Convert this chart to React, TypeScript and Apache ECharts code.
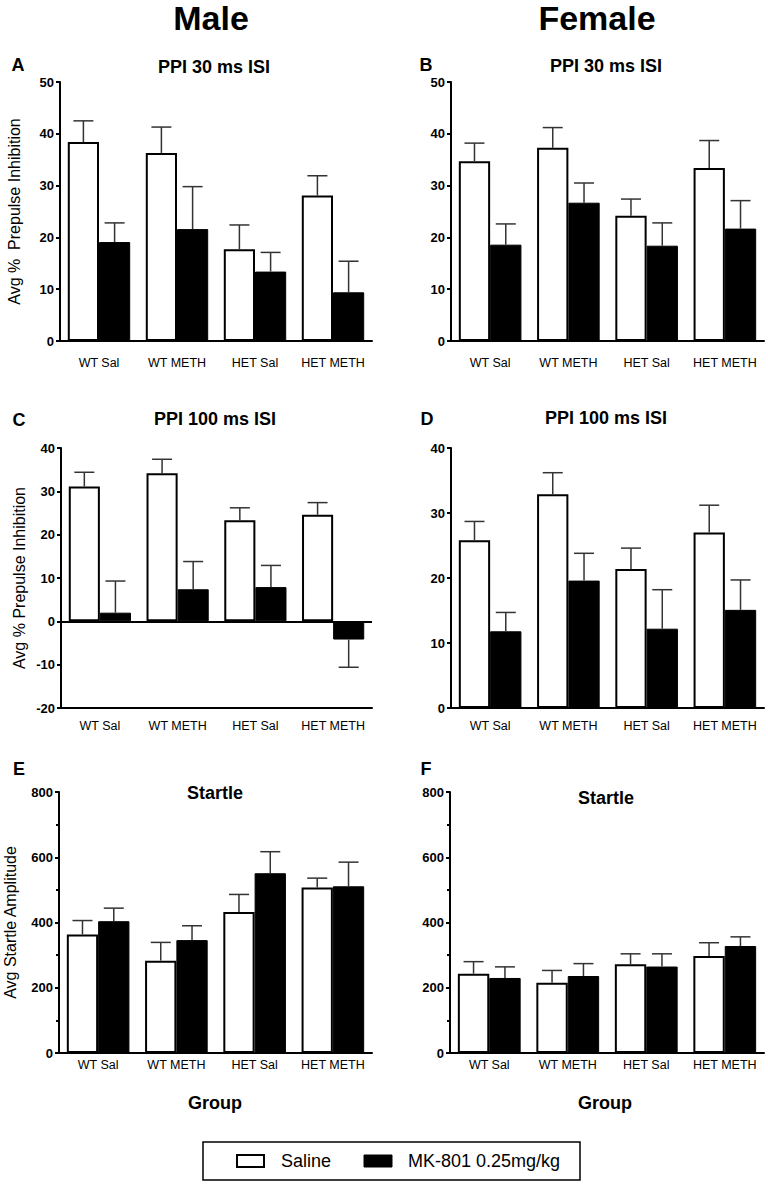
import React, { useEffect, useRef } from "react";
import * as echarts from "echarts";

const CATEGORIES = ["WT Sal", "WT METH", "HET Sal", "HET METH"];

// Panel A – Male, PPI 30 ms ISI
const A_SALINE = [38.4, 36.3, 17.7, 28.1];
const A_SALINE_SEM = [4.1, 5.0, 4.7, 3.8];
const A_MK801 = [19.1, 21.6, 13.4, 9.4];
const A_MK801_SEM = [3.7, 8.2, 3.7, 6.0];

// Panel B – Female, PPI 30 ms ISI
const B_SALINE = [34.7, 37.3, 24.2, 33.4];
const B_SALINE_SEM = [3.5, 3.9, 3.2, 5.3];
const B_MK801 = [18.6, 26.7, 18.4, 21.7];
const B_MK801_SEM = [4.0, 3.8, 4.4, 5.4];

// Panel C – Male, PPI 100 ms ISI
const C_SALINE = [31.1, 34.2, 23.3, 24.6];
const C_SALINE_SEM = [3.3, 3.2, 2.9, 2.8];
const C_MK801 = [2.0, 7.4, 7.9, -4.2];
const C_MK801_SEM = [7.3, 6.4, 5.0, 6.4];

// Panel D – Female, PPI 100 ms ISI
const D_SALINE = [25.8, 32.9, 21.4, 27.0];
const D_SALINE_SEM = [2.9, 3.3, 3.2, 4.2];
const D_MK801 = [11.8, 19.6, 12.2, 15.1];
const D_MK801_SEM = [2.9, 4.2, 6.0, 4.6];

// Panel E – Male, Startle
const E_SALINE = [363, 283, 432, 507];
const E_SALINE_SEM = [43, 56, 54, 29];
const E_MK801 = [404, 346, 551, 511];
const E_MK801_SEM = [40, 44, 66, 74];

// Panel F – Female, Startle
const F_SALINE = [243, 215, 272, 297];
const F_SALINE_SEM = [37, 38, 32, 41];
const F_MK801 = [230, 236, 265, 328];
const F_MK801_SEM = [34, 38, 39, 28];

const SERIES_NAMES = ["Saline", "MK-801 0.25mg/kg"];
const FONT = '"Liberation Sans", Arial, Helvetica, sans-serif';

type Panel = {
  letter: string;
  title: string;
  grid: { left: number; top: number; width: number; height: number };
  min: number;
  max: number;
  interval: number;
  minor: boolean;
  yName: string;
  nameGap: number;
  labelMargin: number;
  zeroLine: boolean;
  saline: number[];
  salineSem: number[];
  mk: number[];
  mkSem: number[];
  letterPos: [number, number];
  titlePos: [number, number];
};

const PANELS: Panel[] = [
  {
    letter: "A", title: "PPI 30 ms ISI",
    grid: { left: 60, top: 82, width: 312, height: 259 },
    min: 0, max: 50, interval: 10, minor: false,
    yName: "Avg %  Prepulse Inhibition", nameGap: 38, labelMargin: 15, zeroLine: false,
    saline: A_SALINE, salineSem: A_SALINE_SEM, mk: A_MK801, mkSem: A_MK801_SEM,
    letterPos: [18, 65], titlePos: [214, 67],
  },
  {
    letter: "B", title: "PPI 30 ms ISI",
    grid: { left: 451, top: 82, width: 313, height: 259 },
    min: 0, max: 50, interval: 10, minor: false,
    yName: "", nameGap: 38, labelMargin: 15, zeroLine: false,
    saline: B_SALINE, salineSem: B_SALINE_SEM, mk: B_MK801, mkSem: B_MK801_SEM,
    letterPos: [426, 65], titlePos: [606, 66],
  },
  {
    letter: "C", title: "PPI 100 ms ISI",
    grid: { left: 61, top: 448, width: 311, height: 260 },
    min: -20, max: 40, interval: 10, minor: false,
    yName: "Avg % Prepulse Inhibition", nameGap: 34, labelMargin: 11, zeroLine: true,
    saline: C_SALINE, salineSem: C_SALINE_SEM, mk: C_MK801, mkSem: C_MK801_SEM,
    letterPos: [19, 420], titlePos: [215, 419],
  },
  {
    letter: "D", title: "PPI 100 ms ISI",
    grid: { left: 451, top: 448, width: 313, height: 260 },
    min: 0, max: 40, interval: 10, minor: false,
    yName: "", nameGap: 34, labelMargin: 11, zeroLine: false,
    saline: D_SALINE, salineSem: D_SALINE_SEM, mk: D_MK801, mkSem: D_MK801_SEM,
    letterPos: [427, 419], titlePos: [606, 418],
  },
  {
    letter: "E", title: "Startle",
    grid: { left: 59, top: 792, width: 313, height: 261 },
    min: 0, max: 800, interval: 200, minor: true,
    yName: "Avg Startle Amplitude", nameGap: 41, labelMargin: 5, zeroLine: false,
    saline: E_SALINE, salineSem: E_SALINE_SEM, mk: E_MK801, mkSem: E_MK801_SEM,
    letterPos: [19, 769], titlePos: [215, 793],
  },
  {
    letter: "F", title: "Startle",
    grid: { left: 450, top: 792, width: 314, height: 261 },
    min: 0, max: 800, interval: 200, minor: true,
    yName: "", nameGap: 41, labelMargin: 5, zeroLine: false,
    saline: F_SALINE, salineSem: F_SALINE_SEM, mk: F_MK801, mkSem: F_MK801_SEM,
    letterPos: [426, 769], titlePos: [606, 798],
  },
];

function errorRenderer(offset: number) {
  return (params: any, api: any) => {
    const i = api.value(0);
    const m = api.value(1);
    const s = api.value(2);
    const end = m >= 0 ? m + s : m - s;
    const c = api.coord([i, m]);
    const e = api.coord([i, end]);
    const band = api.size([1, 0])[0];
    const x = c[0] + offset * band;
    const hw = 10;
    const style = { stroke: "#333", lineWidth: 1.5 };
    return {
      type: "group",
      children: [
        { type: "line", shape: { x1: x, y1: c[1], x2: x, y2: e[1] }, style },
        { type: "line", shape: { x1: x - hw, y1: e[1], x2: x + hw, y2: e[1] }, style },
      ],
    };
  };
}

function txt(text: string, x: number, y: number, size: number, bold: boolean, align = "center") {
  return {
    type: "text",
    x,
    y,
    style: {
      text,
      fill: "#000",
      font: `${bold ? "bold " : ""}${size}px ${FONT}`,
      textAlign: align,
      textVerticalAlign: "middle",
      align,
      verticalAlign: "middle",
    },
  };
}

export default function App() {
  const ref = useRef<HTMLDivElement>(null);

  useEffect(() => {
    document.body.style.margin = "0";
    if (!ref.current) return;
    const chart = echarts.init(ref.current, undefined, { renderer: "svg" });

    const grids: any[] = [];
    const xAxes: any[] = [];
    const yAxes: any[] = [];
    const series: any[] = [];
    const graphics: any[] = [];

    PANELS.forEach((p, idx) => {
      grids.push({ ...p.grid, containLabel: false });
      xAxes.push({
        type: "category",
        gridIndex: idx,
        data: CATEGORIES,
        axisLine: { onZero: false, lineStyle: { color: "#000", width: 2 } },
        axisTick: { show: false },
        axisLabel: { interval: 0, color: "#000", fontSize: 12.5, fontFamily: FONT, margin: p.labelMargin },
        splitLine: { show: false },
      });
      yAxes.push({
        type: "value",
        gridIndex: idx,
        min: p.min,
        max: p.max,
        interval: p.interval,
        name: p.yName,
        nameLocation: "middle",
        nameGap: p.nameGap,
        nameTextStyle: { color: "#000", fontSize: 16, fontFamily: FONT },
        axisLine: { show: true, lineStyle: { color: "#000", width: 2 } },
        axisTick: { show: true, length: 4, lineStyle: { color: "#000", width: 2 } },
        minorTick: p.minor ? { show: true, splitNumber: 2, length: 3, lineStyle: { color: "#000", width: 2 } } : { show: false },
        axisLabel: { color: "#000", fontSize: 13, fontWeight: 700, fontFamily: FONT, margin: 6 },
        splitLine: { show: false },
      });
      series.push({
        name: SERIES_NAMES[0],
        type: "bar",
        xAxisIndex: idx,
        yAxisIndex: idx,
        data: p.saline,
        barGap: "0%",
        barCategoryGap: "20%",
        itemStyle: { color: "#fff", borderColor: "#000", borderWidth: 2 },
        markLine: p.zeroLine
          ? {
              silent: true,
              symbol: "none",
              label: { show: false },
              lineStyle: { color: "#000", width: 2, type: "solid" },
              data: [{ yAxis: 0 }],
            }
          : undefined,
      });
      series.push({
        name: SERIES_NAMES[1],
        type: "bar",
        xAxisIndex: idx,
        yAxisIndex: idx,
        data: p.mk,
        barGap: "0%",
        barCategoryGap: "20%",
        itemStyle: { color: "#000", borderColor: "#000", borderWidth: 1 },
      });
      series.push({
        type: "custom",
        xAxisIndex: idx,
        yAxisIndex: idx,
        renderItem: errorRenderer(-0.2),
        encode: { x: 0, y: 1 },
        data: p.saline.map((v, i) => [i, v, p.salineSem[i]]),
        z: 5,
      });
      series.push({
        type: "custom",
        xAxisIndex: idx,
        yAxisIndex: idx,
        renderItem: errorRenderer(0.2),
        encode: { x: 0, y: 1 },
        data: p.mk.map((v, i) => [i, v, p.mkSem[i]]),
        z: 5,
      });
      graphics.push(txt(p.letter, p.letterPos[0], p.letterPos[1], 18, true));
      graphics.push(txt(p.title, p.titlePos[0], p.titlePos[1], 18, true));
    });

    graphics.push(txt("Male", 211, 18, 34, true));
    graphics.push(txt("Female", 597, 18, 34, true));
    graphics.push(txt("Group", 215, 1103, 18, true));
    graphics.push(txt("Group", 605, 1103, 18, true));

    // legend box
    graphics.push({
      type: "rect",
      shape: { x: 203, y: 1142, width: 377, height: 38 },
      style: { fill: "#fff", stroke: "#000", lineWidth: 1.5 },
    });
    graphics.push({
      type: "rect",
      shape: { x: 237, y: 1155, width: 27, height: 12 },
      style: { fill: "#fff", stroke: "#000", lineWidth: 2 },
    });
    graphics.push({
      type: "rect",
      shape: { x: 364, y: 1155, width: 28, height: 12 },
      style: { fill: "#000", stroke: "#000", lineWidth: 1 },
    });
    graphics.push(txt(SERIES_NAMES[0], 281, 1161, 18, false, "left"));
    graphics.push(txt(SERIES_NAMES[1], 408, 1161, 18, false, "left"));

    chart.setOption({
      animation: false,
      backgroundColor: "#fff",
      textStyle: { fontFamily: FONT },
      grid: grids,
      xAxis: xAxes,
      yAxis: yAxes,
      series,
      graphic: { elements: graphics },
    });

    return () => chart.dispose();
  }, []);

  return <div ref={ref} style={{ width: 768, height: 1189 }} />;
}
